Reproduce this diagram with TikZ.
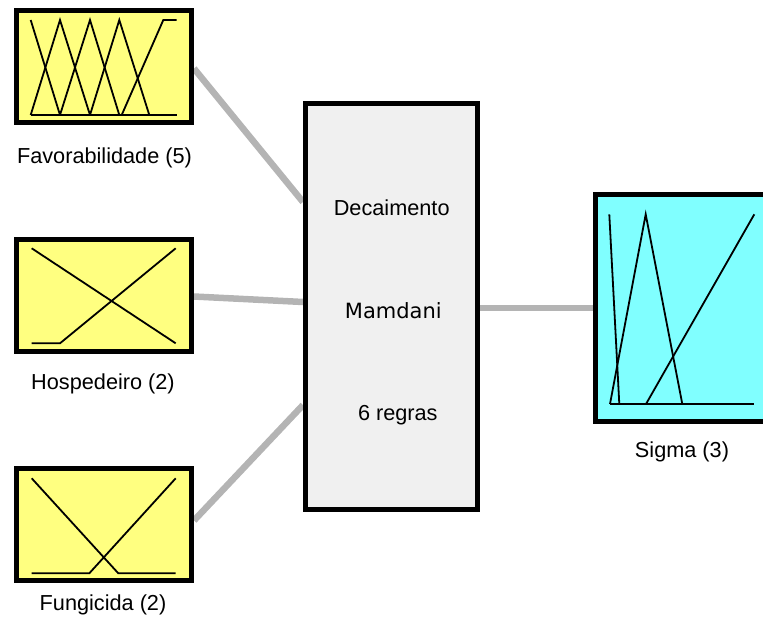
\documentclass[tikz,border=0pt]{standalone}
\usepackage{fontspec}
\setmainfont{Liberation Sans}
\newfontfamily\dejavu{DejaVu Sans}
\usetikzlibrary{backgrounds}
\definecolor{inputfill}{RGB}{255,255,128}
\definecolor{outputfill}{RGB}{128,255,255}
\definecolor{fisfill}{RGB}{240,240,240}
\definecolor{linkgray}{RGB}{180,180,180}
\tikzset{
  varbox/.style={draw=black, line width=5pt, inner sep=0pt, minimum width=175pt, minimum height=112pt},
  inbox/.style={varbox, fill=inputfill},
  outbox/.style={varbox, fill=outputfill, minimum width=173pt, minimum height=227pt},
  fisbox/.style={draw=black, line width=5pt, fill=fisfill, inner sep=0pt, minimum width=172pt, minimum height=406pt},
  link/.style={draw=linkgray, line width=6.5pt},
  mf/.style={draw=black, line width=1.8pt},
  lbl/.style={anchor=base, inner sep=0pt, font=\fontsize{21.7}{24}\selectfont},
}
\begin{document}
\begin{tikzpicture}[x=1pt,y=-1pt]
  \useasboundingbox (0,0) rectangle (763,622);
  \clip (0,0) rectangle (763,622);

  % variable and system blocks
  \node[inbox]  (fav)   at (104,66.5)  {};
  \node[inbox]  (hosp)  at (104,295.5) {};
  \node[inbox]  (fung)  at (104,524.5) {};
  \node[fisbox] (fis)   at (391.5,306.5) {};
  \node[outbox] (sigma) at (682,308)   {};

  % attachment points on the rule block
  \coordinate (in1) at (fis.west |- 0,202);
  \coordinate (in2) at (fis.west |- 0,302);
  \coordinate (in3) at (fis.west |- 0,405);
  \coordinate (out1) at (fis.east |- 0,308);

  % connectors, kept behind the blocks
  \begin{scope}[on background layer]
    \path[link] ([yshift=-2pt]fav.east) -- (in1);
    \path[link] ([yshift=-1pt]hosp.east) -- (in2);
    \path[link] ([yshift=4pt]fung.east) -- (in3);
    \path[link] (out1) -- (sigma.west |- out1);
  \end{scope}

  % membership functions: Favorabilidade
  \draw[mf] (30.7,115) -- (176.7,115);
  \draw[mf] (30.7,20) -- (60,115);
  \draw[mf] (30.7,115) -- (60,20) -- (90,115);
  \draw[mf] (60,115) -- (90,20) -- (119.3,115);
  \draw[mf] (90,115) -- (119.3,20) -- (149.3,115);
  \draw[mf] (121.7,115) -- (163.3,20) -- (176.7,20);

  % membership functions: Hospedeiro
  \draw[mf] (31.7,248.3) -- (175.7,343.3);
  \draw[mf] (31.7,343.3) -- (60,343.3) -- (175.7,248.3);

  % membership functions: Fungicida
  \draw[mf] (31.7,478.3) -- (118.3,573.3) -- (175.7,573.3);
  \draw[mf] (31.7,573.3) -- (89.3,573.3) -- (175.7,478.3);

  % membership functions: Sigma
  \draw[mf] (610,404) -- (754.3,404);
  \draw[mf] (609.3,214.3) -- (619.3,404);
  \draw[mf] (610,404) -- (645.7,214.3) -- (682.3,404);
  \draw[mf] (646,404) -- (754.3,214.3);

  % block labels
  \node[lbl] (lfav)   at (104.5,163.3) {Favorabilidade (5)};
  \node[lbl] (lhosp)  at (103,389.3) {Hospedeiro (2)};
  \node[lbl] (lfung)  at (103,610.7) {Fungicida (2)};
  \node[lbl] (lsigma) at (682,457)   {Sigma (3)};

  % rule block text
  \node[lbl] (tname)  at (391.7,215)   {Decaimento};
  \node[lbl, font=\dejavu\fontsize{21}{24}\selectfont] (ttype) at (393.3,318.3) {Mamdani};
  \node[lbl] (trules) at (397.8,420)   {6 regras};
\end{tikzpicture}
\end{document}
